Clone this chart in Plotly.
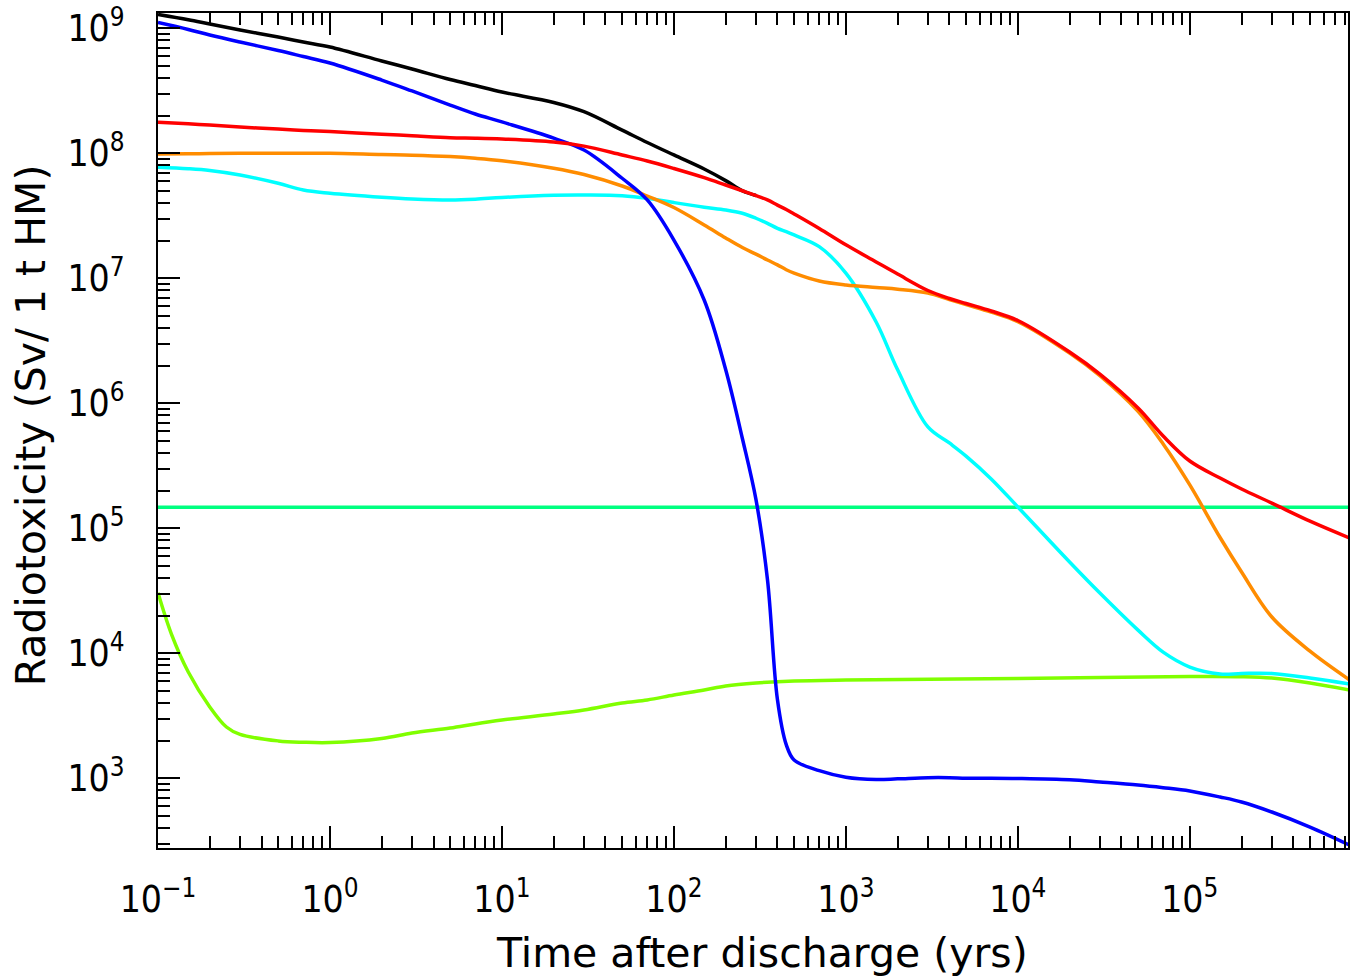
import plotly.graph_objects as go

# Time after discharge (years)
years = [0.1, 0.15, 0.2, 0.3, 0.5, 0.7, 1, 2, 3, 5, 7, 10, 20, 30, 50, 70, 100, 150,
         200, 250, 300, 350, 400, 450, 500, 700, 1000, 1500, 2000, 3000, 4000, 5000,
         7000, 1e4, 2e4, 3e4, 5e4, 7e4, 1e5, 1.5e5, 2e5, 3e5, 5e5, 8.5e5]

# Radiotoxicity (Sv per tonne of heavy metal)
fission_products = [1.11e9, 9.77e8, 8.83e8, 7.76e8, 6.64e8, 5.94e8, 5.27e8, 3.85e8, 3.15e8,
                    2.43e8, 2.06e8, 1.78e8, 1.32e8, 1.06e8, 6.31e7, 4.23e7, 2.02e7, 6.70e6,
                    1.86e6, 5.25e5, 1.70e5, 3.89e4, 4.27e3, 1.86e3, 1.40e3, 1.15e3, 1.02e3,
                    977, 989, 1.01e3, 1.01e3, 1.0e3, 1.0e3, 995, 971, 933, 883, 841, 791,
                    708, 646, 537, 407, 292]

actinides = [1.77e8, 1.72e8, 1.68e8, 1.62e8, 1.56e8, 1.52e8, 1.49e8, 1.42e8, 1.38e8, 1.33e8,
             1.32e8, 1.30e8, 1.23e8, 1.14e8, 9.68e7, 8.67e7, 7.55e7, 6.38e7, 5.57e7, 5.01e7,
             4.59e7, 4.23e7, 3.85e7, 3.55e7, 3.27e7, 2.50e7, 1.85e7, 1.35e7, 1.08e7, 7.98e6,
             6.89e6, 6.28e6, 5.47e6, 4.59e6, 2.57e6, 1.71e6, 9.16e5, 5.47e5, 3.45e5, 2.52e5,
             2.06e5, 1.59e5, 1.14e5, 8.36e4]

plutonium = [9.86e7, 9.91e7, 9.95e7, 1.0e8, 1.0e8, 1.0e8, 1.0e8, 9.77e7, 9.66e7, 9.40e7,
             9.12e7, 8.71e7, 7.59e7, 6.76e7, 5.47e7, 4.55e7, 3.68e7, 2.67e7, 2.10e7, 1.76e7,
             1.56e7, 1.40e7, 1.28e7, 1.17e7, 1.10e7, 9.51e6, 8.83e6, 8.43e6, 8.17e6, 7.62e6,
             6.75e6, 6.15e6, 5.36e6, 4.50e6, 2.52e6, 1.66e6, 8.60e5, 4.72e5, 2.22e5, 8.43e4,
             4.47e4, 1.95e4, 1.04e4, 6.12e3]

minor_actinides = [7.73e7, 7.52e7, 7.28e7, 6.70e7, 5.75e7, 5.08e7, 4.79e7, 4.45e7, 4.31e7,
                   4.23e7, 4.29e7, 4.43e7, 4.61e7, 4.63e7, 4.58e7, 4.37e7, 4.03e7, 3.70e7,
                   3.52e7, 3.31e7, 3.02e7, 2.75e7, 2.51e7, 2.36e7, 2.22e7, 1.79e7, 1.10e7,
                   4.47e6, 1.85e6, 6.46e5, 4.81e5, 3.78e5, 2.48e5, 1.48e5, 5.37e4, 3.03e4,
                   1.53e4, 1.02e4, 7.76e3, 6.82e3, 6.89e3, 6.89e3, 6.34e3, 5.68e3]

# Total, plotted until it merges into the actinide curve
total_years = [0.1, 0.15, 0.2, 0.3, 0.5, 0.7, 1, 2, 3, 5, 7, 10, 20, 30, 50, 70, 100,
               150, 200, 250, 300]
total = [1.29e9, 1.17e9, 1.08e9, 9.68e8, 8.51e8, 7.76e8, 7.08e8, 5.47e8, 4.72e8, 3.89e8,
         3.48e8, 3.09e8, 2.55e8, 2.15e8, 1.53e8, 1.22e8, 9.69e7, 7.48e7, 6.04e7, 5.01e7,
         4.59e7]

activation_years = [0.1, 0.12, 0.15, 0.2, 0.25, 0.3, 0.5, 0.7, 1, 2, 3, 5, 7, 10, 20, 30,
                    50, 70, 100, 150, 200, 300, 500, 1000, 1e4, 1e5, 2e5, 3e5, 5e5, 8.5e5]
activation = [3.05e4, 1.41e4, 7.08e3, 3.72e3, 2.57e3, 2.24e3, 1.99e3, 1.94e3, 1.93e3,
              2.08e3, 2.30e3, 2.52e3, 2.72e3, 2.92e3, 3.27e3, 3.52e3, 4.0e3, 4.23e3,
              4.63e3, 5.08e3, 5.47e3, 5.78e3, 6.0e3, 6.11e3, 6.28e3, 6.52e3, 6.50e3,
              6.34e3, 5.78e3, 5.08e3]

# Natural uranium reference level
ore_years = [0.1, 8.5e5]
ore_level = [1.47e5, 1.47e5]

x_ticks = [0.1, 1, 10, 100, 1e3, 1e4, 1e5]
x_labels = ["10<sup>\u22121</sup>", "10<sup>0</sup>", "10<sup>1</sup>", "10<sup>2</sup>",
            "10<sup>3</sup>", "10<sup>4</sup>", "10<sup>5</sup>"]
y_ticks = [1e3, 1e4, 1e5, 1e6, 1e7, 1e8, 1e9]
y_labels = ["10<sup>3</sup>", "10<sup>4</sup>", "10<sup>5</sup>", "10<sup>6</sup>",
            "10<sup>7</sup>", "10<sup>8</sup>", "10<sup>9</sup>"]

series = [
    (ore_years, ore_level, "#00FF80"),
    (total_years, total, "#000000"),
    (activation_years, activation, "#80FF00"),
    (years, minor_actinides, "#00FFFF"),
    (years, plutonium, "#FF8C00"),
    (years, fission_products, "#0000FF"),
    (years, actinides, "#FF0000"),
]

fig = go.Figure()
for xs, ys, color in series:
    fig.add_trace(go.Scatter(
        x=xs, y=ys, mode="lines",
        line=dict(color=color, width=3.5, shape="spline", smoothing=1.0),
        showlegend=False, hoverinfo="skip",
    ))

tick_font = dict(family="Liberation Sans Narrow, DejaVu Sans Condensed, sans-serif",
                 size=37, color="black")
title_font = dict(family="DejaVu Sans, sans-serif", size=41, color="black")

fig.update_layout(
    width=1350, height=979,
    margin=dict(l=158, r=0, t=13, b=131),
    plot_bgcolor="white", paper_bgcolor="white",
    xaxis=dict(
        type="log", range=[-1, 5.92],
        tickmode="array", tickvals=x_ticks, ticktext=x_labels,
        ticks="inside", ticklen=22, tickwidth=2, tickcolor="black",
        showline=True, linewidth=2, linecolor="black", mirror="ticks",
        showgrid=False, zeroline=False,
        tickfont=tick_font, ticklabelstandoff=18,
        minor=dict(ticks="inside", ticklen=12, tickwidth=2, tickcolor="black",
                   dtick="D1", showgrid=False),
    ),
    yaxis=dict(
        type="log", range=[2.442, 9.122],
        tickmode="array", tickvals=y_ticks, ticktext=y_labels,
        ticks="inside", ticklen=22, tickwidth=2, tickcolor="black",
        showline=True, linewidth=2, linecolor="black", mirror=True,
        showgrid=False, zeroline=False,
        tickfont=tick_font, ticklabelstandoff=24,
        minor=dict(ticks="inside", ticklen=12, tickwidth=2, tickcolor="black",
                   dtick="D1", showgrid=False),
    ),
    yaxis2=dict(
        type="log", range=[2.442, 9.122], overlaying="y", side="right", anchor="x",
        tickmode="array", tickvals=y_ticks,
        ticks="inside", ticklen=12, tickwidth=2, tickcolor="black",
        showticklabels=False, showline=False, showgrid=False, zeroline=False,
    ),
    annotations=[
        dict(text="Time after discharge (yrs)", xref="paper", yref="paper",
             x=0.5076, y=-0.1257, xanchor="center", yanchor="middle",
             showarrow=False, font=title_font),
        dict(text="Radiotoxicity (Sv/ 1 t HM)", xref="paper", yref="paper",
             x=-0.1065, y=0.5066, xanchor="center", yanchor="middle",
             textangle=-90, showarrow=False, font=title_font),
    ],
)

fig.write_html("out.html")
